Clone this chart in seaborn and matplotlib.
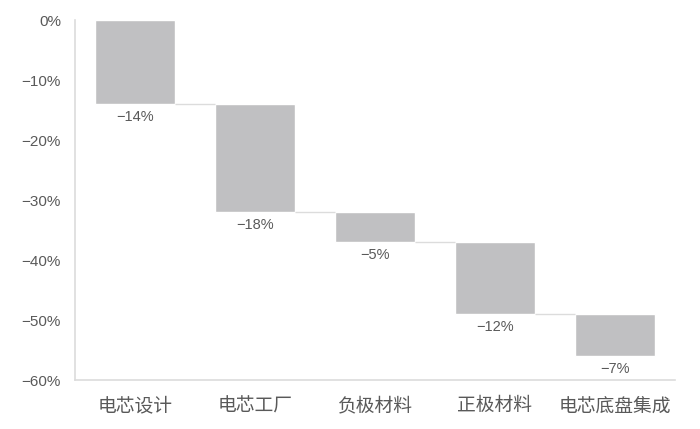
import matplotlib
matplotlib.use("Agg")
import matplotlib.pyplot as plt
import numpy as np
import pandas as pd
import seaborn as sns


categories = ["电芯设计", "电芯工厂", "负极材料", "正极材料", "电芯底盘集成"]
changes = [-14, -18, -5, -12, -7]
y_ticks = [0, -10, -20, -30, -40, -50, -60]

BAR_COLOR = "#c0c0c2"
LINE_COLOR = "#dcdcdc"
TEXT_COLOR = "#595959"
BAR_WIDTH = 0.667
NUM_FONT = ["Liberation Sans", "DejaVu Sans"]


def pct(value: float) -> str:
    return f"{value:.0f}%".replace("-", "\u2212")


def main() -> None:
    sns.set_theme(style="white")
    plt.rcParams["font.family"] = ["Noto Sans CJK SC", "DejaVu Sans"]

    ends = np.cumsum(changes)
    starts = ends - np.array(changes)
    df = pd.DataFrame({"category": categories, "change": changes, "start": starts, "end": ends})

    fig = plt.figure(figsize=(7.0, 4.29), dpi=100)
    ax = fig.add_axes([75 / 700, 1 - 380 / 429, 600 / 700, 360 / 429])

    sns.barplot(
        data=df, x="category", y="change", bottom=df["start"].to_numpy(),
        color=BAR_COLOR, width=BAR_WIDTH, saturation=1, ax=ax,
    )

    # connectors between consecutive bars
    for i in range(len(df) - 1):
        ax.hlines(df["end"][i], i + BAR_WIDTH / 2, i + 1 - BAR_WIDTH / 2,
                  color=LINE_COLOR, linewidth=1)

    for i, row in df.iterrows():
        ax.text(i, row["end"] - 1.0, pct(row["change"]), ha="center", va="top",
                fontsize=10.5, color=TEXT_COLOR, family=NUM_FONT)

    ax.set_xlim(-0.5, len(categories) - 0.5)
    ax.set_ylim(-60, 0)
    ax.set_yticks(y_ticks)
    ax.set_yticklabels([pct(v) for v in y_ticks], family=NUM_FONT)
    ax.set_xlabel("")
    ax.set_ylabel("")
    ax.tick_params(axis="y", length=0, pad=10, labelsize=11, labelcolor=TEXT_COLOR)
    ax.tick_params(axis="x", length=0, pad=11, labelsize=13.5, labelcolor=TEXT_COLOR)

    for side in ["top", "right"]:
        ax.spines[side].set_visible(False)
    for side in ["left", "bottom"]:
        ax.spines[side].set_color(LINE_COLOR)
        ax.spines[side].set_linewidth(1.2)

    fig.savefig("out.png", dpi=100)
    plt.close(fig)


if __name__ == "__main__":
    main()
